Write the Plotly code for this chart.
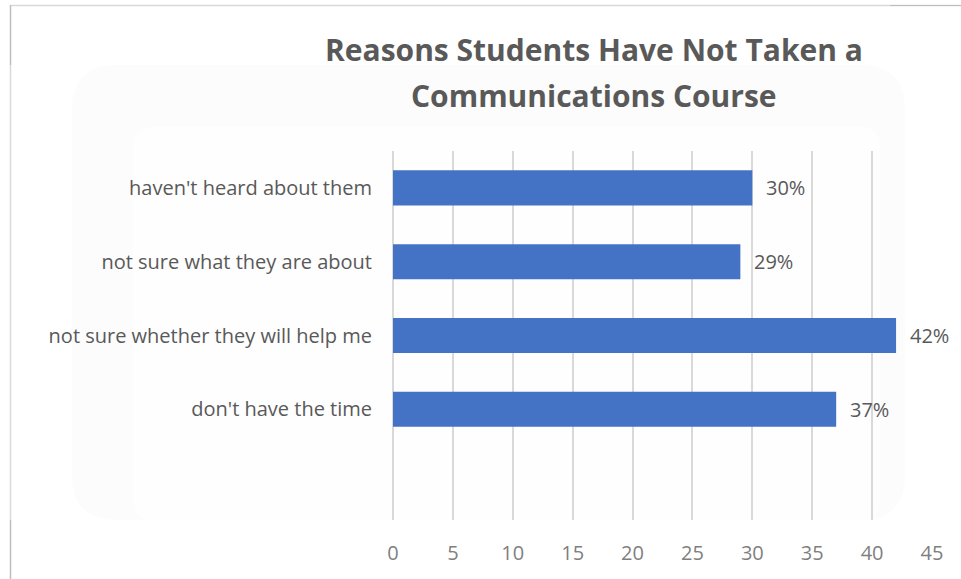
import plotly.graph_objects as go

# ---- data ----
categories = ["haven't heard about them",
              "not sure what they are about",
              "not sure whether they will help me",
              "don't have the time"]
values = [30, 29, 42, 37]
x_ticks = [0, 5, 10, 15, 20, 25, 30, 35, 40, 45]
title_line1 = "Reasons Students Have Not Taken a"
title_line2 = "Communications Course"

# ---- layout constants ----
W, H = 961, 579
ML, MR, MT, MB = 393, 29, 151, 59
PW, PH = W - ML - MR, H - MT - MB


def px(xp):
    return (xp - ML) / PW


def py(yp):
    return (H - MB - yp) / PH


# bottom-to-top order, with a blank slot at the bottom (as in the source)
y_order = [" "] + categories[::-1]
bar_y = categories
FONT = "Open Sans"
GRAY = "#595959"

fig = go.Figure()
fig.add_trace(go.Bar(
    x=values, y=bar_y, orientation="h",
    marker=dict(color="#4472C4", line=dict(width=0)),
    hoverinfo="skip",
))

annotations = []
for c, v in zip(categories, values):
    annotations.append(dict(
        x=v, y=c, xref="x", yref="y", text=f"{v}%", showarrow=False,
        xanchor="left", yanchor="middle", xshift=12,
        font=dict(family=FONT, size=20, color=GRAY),
    ))
annotations.append(dict(
    x=px(594), y=py(50), xref="paper", yref="paper", text=title_line1,
    showarrow=False, xanchor="center", yanchor="middle",
    font=dict(family=FONT, size=30, color=GRAY, weight="bold"),
))
annotations.append(dict(
    x=px(594), y=py(96), xref="paper", yref="paper", text=title_line2,
    showarrow=False, xanchor="center", yanchor="middle",
    font=dict(family=FONT, size=30, color=GRAY, weight="bold"),
))


def rounded_rect(x0, y0, x1, y1, r):
    rx, ry = r / PW, r / PH
    X0, X1, Y0, Y1 = px(x0), px(x1), py(y1), py(y0)  # Y0 bottom, Y1 top
    return (f"M {X0+rx},{Y0} L {X1-rx},{Y0} Q {X1},{Y0} {X1},{Y0+ry} "
            f"L {X1},{Y1-ry} Q {X1},{Y1} {X1-rx},{Y1} L {X0+rx},{Y1} "
            f"Q {X0},{Y1} {X0},{Y1-ry} L {X0},{Y0+ry} Q {X0},{Y0} {X0+rx},{Y0} Z")


shapes = [
    dict(type="path", xref="paper", yref="paper", layer="below",
         path=rounded_rect(72, 65, 905, 520, 45),
         fillcolor="#fcfcfc", line=dict(width=0)),
    dict(type="path", xref="paper", yref="paper", layer="below",
         path=rounded_rect(133, 127, 880, 520, 20),
         fillcolor="#fefefe", line=dict(width=0)),
    # outer frame
    dict(type="line", xref="paper", yref="paper", x0=px(10), x1=px(961),
         y0=py(5.5), y1=py(5.5), line=dict(color="#d9d9d9", width=1.5)),
    dict(type="line", xref="paper", yref="paper", x0=px(10.5), x1=px(10.5),
         y0=py(5), y1=py(579), line=dict(color="#d9d9d9", width=1.5)),
    dict(type="line", xref="paper", yref="paper", x0=px(10.5), x1=px(10.5),
         y0=py(5), y1=py(65), line=dict(color="#bdbdbd", width=1.2)),
    dict(type="line", xref="paper", yref="paper", x0=px(10.5), x1=px(10.5),
         y0=py(520), y1=py(579), line=dict(color="#bdbdbd", width=1.2)),
    dict(type="line", xref="paper", yref="paper", x0=px(890), x1=px(961),
         y0=py(5.5), y1=py(5.5), line=dict(color="#bdbdbd", width=1.2)),
]

fig.update_layout(
    width=W, height=H,
    margin=dict(l=ML, r=MR, t=MT, b=MB, pad=0),
    paper_bgcolor="white", plot_bgcolor="rgba(0,0,0,0)",
    showlegend=False, bargap=0.525,
    annotations=annotations, shapes=shapes,
    xaxis=dict(range=[0, 45], tickvals=x_ticks, showgrid=True,
               gridcolor="#d9d9d9", gridwidth=1.5, zeroline=True,
               zerolinecolor="#d9d9d9", zerolinewidth=1.5, showline=False,
               ticks="", ticklabelstandoff=19,
               tickfont=dict(family=FONT, size=20, color="#7f7f7f"),
               fixedrange=True),
    yaxis=dict(type="category", categoryorder="array", categoryarray=y_order,
               range=[-0.5, len(y_order) - 0.5], showgrid=False,
               zeroline=False, showline=False, ticks="",
               ticklabelstandoff=20,
               tickfont=dict(family=FONT, size=20, color=GRAY),
               fixedrange=True),
)

fig.write_html("out.html", config={"displayModeBar": False},
               post_script="document.body.style.margin='0';"
                           "document.body.style.overflow='hidden';")
